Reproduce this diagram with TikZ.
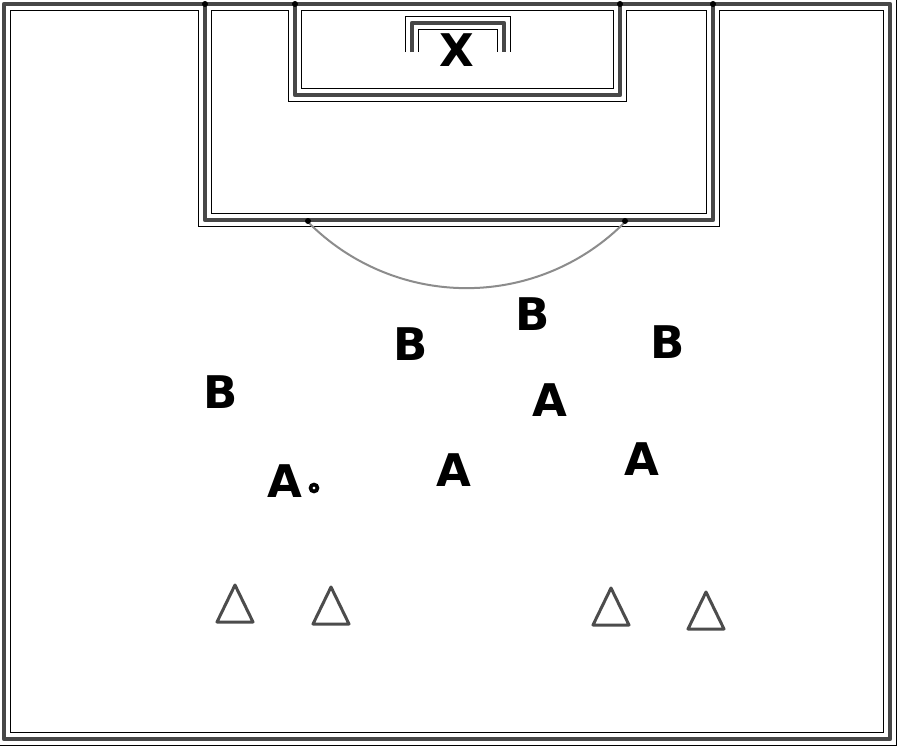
\documentclass[tikz,border=0pt]{standalone}
\usepackage{fontspec}
\setmainfont{DejaVu Sans}

\tikzset{
  pitchline/.style={draw=black!72, line width=4.5pt, line join=round,
    preaction={draw=black, line width=14pt, line join=miter},
    preaction={draw=white, line width=12.4pt, line join=miter}},
  arcline/.style={draw=black!45, line width=2pt},
  player/.style={font=\bfseries\fontsize{45}{45}\selectfont, inner sep=0pt},
  cone/.style={draw=black!70, line width=3pt, line join=round, fill=white},
  ballnode/.style={circle, draw=black, line width=3.6pt, minimum size=7pt, inner sep=0pt, fill=white},
}

\begin{document}
\begin{tikzpicture}[x=1pt, y=-1pt]
  \useasboundingbox[fill=white] (0,0) rectangle (900,747);
  \draw[pitchline] (4,4) rectangle (890,739)
    (205,4) |- (713,220) -- (713,4)
    (295,4) |- (620,95) -- (620,4)
    (412,52) -- (412,23) -- (504,23) -- (504,52);
  \coordinate (arcL) at (308,222);
  \coordinate (arcR) at (625,222);
  \draw[arcline] (arcL) arc[start angle=135.3, end angle=44.7, radius=223];
  \foreach \p in {(205,4),(295,4),(620,4),(713,4),(308,221),(625,221)}
    \fill[black] \p circle (3);

  \node[player] (goalie) at (457,50) {X};

  \node[player] (b1) at (221,392) {B};
  \node[player] (b2) at (411,344) {B};
  \node[player] (b3) at (533,314) {B};
  \node[player] (b4) at (668,342) {B};

  \node[player] (a1) at (285,481) {A};
  \node[player] (a2) at (454,470) {A};
  \node[player] (a3) at (550,400) {A};
  \node[player] (a4) at (642,459) {A};
  \node[ballnode] (ball) at (314,488) {};

  \foreach \x/\y in {235/585, 331/587, 611/588, 706/592}
    \draw[cone] (\x,\y) -- ++(18,37) -- ++(-36,0) -- cycle;
\end{tikzpicture}
\end{document}
